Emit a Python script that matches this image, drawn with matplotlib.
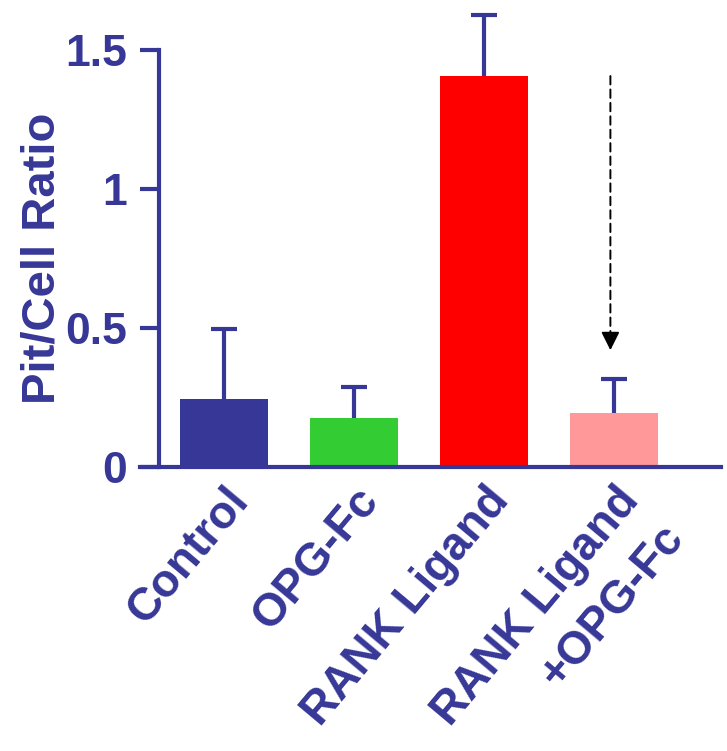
import matplotlib
matplotlib.use("Agg")
import matplotlib.pyplot as plt
from matplotlib.transforms import offset_copy

# data
groups = ["Control", "OPG-Fc", "RANK Ligand", "RANK Ligand"]
second_line = "+OPG-Fc"   # second line of the last group label
means = [0.245, 0.176, 1.406, 0.194]
sem = [0.250, 0.112, 0.220, 0.123]
colors = ["#373797", "#33CC33", "#FF0000", "#FF9999"]
navy = "#373797"

plt.rcParams["font.family"] = ["Liberation Sans", "DejaVu Sans"]
plt.rcParams["font.weight"] = "bold"

fig = plt.figure(figsize=(7.27, 7.51), dpi=100)
ax = fig.add_axes([0.2187, 0.3782, 0.773, 0.5553])

x = range(len(groups))
ax.bar(x, means, width=0.677, color=colors, zorder=1)
_, caps, _ = ax.errorbar(x, means, yerr=[[0] * len(sem), sem], fmt="none",
                         ecolor=navy, elinewidth=3, capsize=9.5, capthick=3,
                         clip_on=False, zorder=2)
caps[0].set_visible(False)  # only the upper cap

# dashed arrow from RANK Ligand level down to the combo bar
ax_x, y_from, y_to = 2.97, means[2], 0.42
ax.annotate("", xy=(ax_x, y_to + 0.05), xytext=(ax_x, y_from),
            arrowprops=dict(arrowstyle="-", color="black", lw=1.4,
                            ls=(0, (4.3, 2.6)), shrinkA=0, shrinkB=0))
ax.annotate("", xy=(ax_x, y_to), xytext=(ax_x, y_to + 0.06),
            arrowprops=dict(arrowstyle="-|>,head_length=1.1,head_width=0.55",
                            color="black", lw=1.4, shrinkA=0, shrinkB=0))

ax.set_xlim(-0.5, 3.82)
ax.set_ylim(0, 1.5)
ax.set_yticks([0, 0.5, 1, 1.5])
ax.set_yticklabels(["0", "0.5", "1", "1.5"])
ax.set_xticks(list(x))
ax.set_xticklabels(groups, rotation=50, ha="right", rotation_mode="anchor")

# second line of last label, shifted one line "down" in the rotated frame
tr = offset_copy(ax.get_xaxis_transform(), fig=fig, x=32.0, y=-9 - 27.0,
                 units="points")
ax.text(len(groups) - 1, 0, second_line, transform=tr, rotation=50,
        ha="right", va="top", rotation_mode="anchor", fontsize=33,
        fontweight="bold", color=navy)

for s in ["top", "right"]:
    ax.spines[s].set_visible(False)
for s in ["left", "bottom"]:
    ax.spines[s].set_color(navy)
    ax.spines[s].set_linewidth(3)
    ax.spines[s].set_zorder(3)
ax.spines["bottom"].set_bounds(-0.646, 3.82)

ax.tick_params(axis="y", colors=navy, labelsize=32, length=13.7, width=3, pad=9)
ax.tick_params(axis="x", colors=navy, labelsize=33, length=0, pad=9)
for lbl in ax.get_xticklabels() + ax.get_yticklabels():
    lbl.set_fontweight("bold")

ax.set_ylabel("Pit/Cell Ratio", fontsize=34, fontweight="bold", color=navy)
ax.yaxis.set_label_coords(-0.168, 0.5)

fig.savefig("out.png", dpi=100)
